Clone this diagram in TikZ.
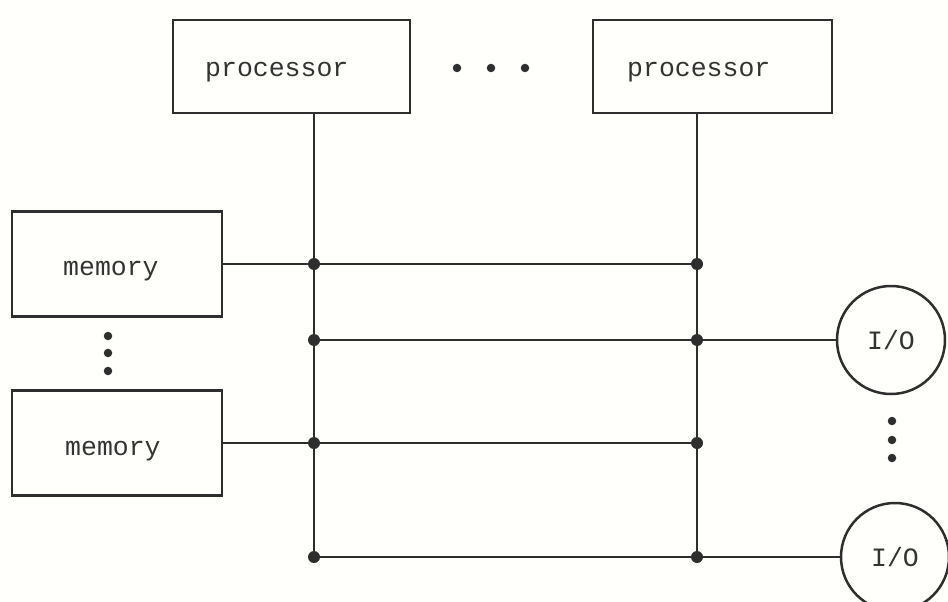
\documentclass[tikz,border=0pt]{standalone}
\usepackage{fontspec}
\setmonofont{Liberation Mono}
\definecolor{ink}{HTML}{2E2E2E}
\definecolor{textc}{HTML}{333333}
\definecolor{paper}{HTML}{FFFFFB}
\tikzset{
  ln/.style={draw=ink, line width=2.8pt},
  boxnode/.style={draw=ink, line width=2.8pt, rectangle, inner sep=0pt},
  ionode/.style={draw=ink, line width=2.5pt, circle, inner sep=0pt, minimum size=108pt,
    font=\ttfamily\fontsize{26.5}{30}\selectfont, text=textc},
  lbl/.style={anchor=base west, inner sep=0pt, font=\ttfamily\fontsize{26.5}{30}\selectfont, text=textc},
  jdot/.style={fill=ink, circle, inner sep=0pt, minimum size=12pt},
  sdot/.style={fill=ink, circle, inner sep=0pt, minimum size=8.5pt},
}
\begin{document}
\begin{tikzpicture}[x=1pt,y=-1pt]
\fill[paper] (0,0) rectangle (948,602);
\useasboundingbox (0,0) rectangle (948,602);
\clip (0,0) rectangle (948,602);

% boxes
\node[boxnode, minimum width=237pt, minimum height=93pt] (p1) at (291.5,66.5) {};
\node[boxnode, minimum width=239pt, minimum height=93pt] (p2) at (712.5,66.5) {};
\node[boxnode, minimum width=210pt, minimum height=105pt] (m1) at (117,264) {};
\node[boxnode, minimum width=210pt, minimum height=105pt] (m2) at (117,443) {};
\node[ionode] (io1) at (891,340) {I/O};
\node[ionode] (io2) at (895,557) {I/O};

% labels
\node[lbl] (t1) at (205,77) {processor};
\node[lbl] (t2) at (627,77) {processor};
\node[lbl] (t3) at (63,275) {memory};
\node[lbl] (t4) at (65,455) {memory};

% junctions
\coordinate (j1a) at (314,264);
\coordinate (j1b) at (697,264);
\coordinate (j2a) at (314,340);
\coordinate (j2b) at (697,340);
\coordinate (j3a) at (314,443);
\coordinate (j3b) at (697,443);
\coordinate (j4a) at (314,557);
\coordinate (j4b) at (697,557);

% bus lines
\draw[ln] (p1.south -| j1a) -- (j4a);
\draw[ln] (p2.south -| j1b) -- (j4b);
\draw[ln] (m1.east) -- (j1b);
\draw[ln] (j2a) -- (io1.west);
\draw[ln] (m2.east) -- (j3b);
\draw[ln] (j4a) -- (io2.west);

% junction dots
\node[jdot] (d1a) at (j1a) {};
\node[jdot] (d1b) at (j1b) {};
\node[jdot] (d2a) at (j2a) {};
\node[jdot] (d2b) at (j2b) {};
\node[jdot] (d3a) at (j3a) {};
\node[jdot] (d3b) at (j3b) {};
\node[jdot] (d4a) at (j4a) {};
\node[jdot] (d4b) at (j4b) {};

% ellipsis dots
\node[sdot] (e1) at (457,68) {};
\node[sdot] (e2) at (491,68) {};
\node[sdot] (e3) at (525,68) {};
\node[sdot] (f1) at (108,336) {};
\node[sdot] (f2) at (108,353) {};
\node[sdot] (f3) at (108,371) {};
\node[sdot] (g1) at (892,421) {};
\node[sdot] (g2) at (892,440) {};
\node[sdot] (g3) at (892,458) {};
\end{tikzpicture}
\end{document}
